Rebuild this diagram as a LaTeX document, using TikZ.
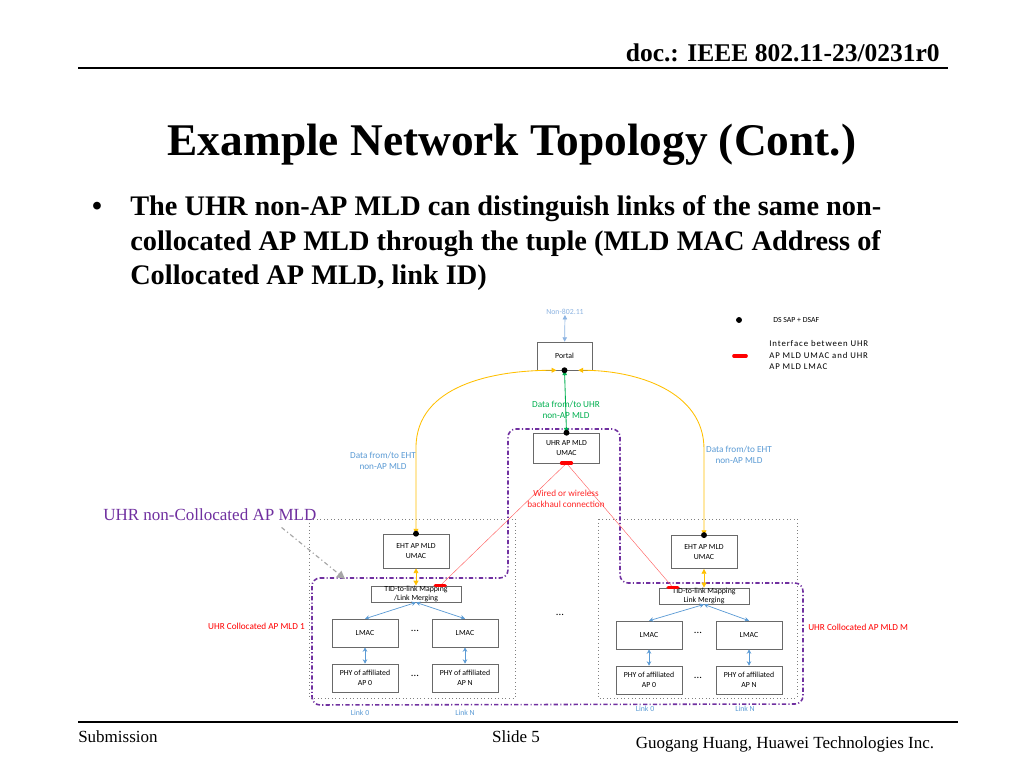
\documentclass[tikz,border=0pt]{standalone}
\usepackage{fontspec}
\setmainfont{Liberation Serif}
\newfontfamily\calfont{Carlito}
\newfontfamily\calspaced[LetterSpace=10]{Carlito}
\usepackage{tikz}
\usetikzlibrary{arrows.meta, positioning, calc}
\usepackage{xcolor}
\definecolor{linkblue}{RGB}{91,155,213}
\definecolor{paleblue}{RGB}{141,180,226}
\definecolor{ehtyellow}{RGB}{255,192,0}
\definecolor{uhrgreen}{RGB}{0,176,80}
\definecolor{uhrpurple}{RGB}{112,48,160}
\definecolor{boxgray}{RGB}{105,105,105}
\definecolor{wirered}{RGB}{255,40,40}
\tikzset{%
	mac box/.style={
		rectangle,
		draw=boxgray,
		line width=0.5pt,
		inner sep=0pt,
		align=center,
		minimum width=16.4mm,
		minimum height=6.9mm,
		font=\calfont\fontsize{5.5}{7}\selectfont
	},
	tid box/.style={
		mac box,
		minimum width=22.3mm,
		minimum height=4mm
	},
	tid text/.style={
		inner sep=0pt,
		align=center,
		font=\calfont\fontsize{5.5}{7}\selectfont
	},
	more dots/.style={
		inner sep=0pt,
		font=\calfont\fontsize{7.5}{8}\selectfont
	},
	small text/.style={
		align=center,
		inner sep=0pt,
		font=\calfont\fontsize{6.5}{8}\selectfont
	},
	link text/.style={
		inner sep=0pt,
		text=linkblue,
		font=\calfont\fontsize{5.5}{7}\selectfont
	},
	eht arrow/.style={
		draw=ehtyellow,
		line width=0.6pt,
		<->, >={Triangle[length=1.2mm,width=1.2mm]}
	},
	link arrow/.style={
		draw=linkblue,
		line width=0.5pt,
		<->, >={Stealth[length=1.1mm,width=1.1mm]}
	},
	uhr arrow/.style={
		draw=uhrgreen,
		line width=0.6pt,
		<->, >={Triangle[length=1.2mm,width=1.1mm]}
	},
	backhaul/.style={
		draw=wirered!75,
		line width=0.3pt
	},
	iface/.style={
		draw=red,
		line width=2.6pt,
		line cap=round
	},
	collocated region/.style={
		draw=gray,
		line width=0.5pt,
		dotted
	},
	uhr region/.style={
		draw=uhrpurple,
		line width=1.1pt,
		rounded corners=2mm,
		dash pattern=on 3pt off 1.6pt on 0.8pt off 1.6pt
	},
	pointer/.style={
		draw=gray!70,
		line width=0.8pt,
		dash pattern=on 3pt off 2pt on 0.8pt off 2pt,
		-{Triangle[length=2mm,width=2mm]}
	}
}

\begin{document}
\begin{tikzpicture}[x=0.248046875mm, y=-0.248046875mm]
	\fill[white] (0,0) rectangle (1024,768);
	\useasboundingbox (0,0) rectangle (1024,768);

	% slide frame
	\node[anchor=base east, inner sep=0pt, font=\bfseries\fontsize{18}{21}\selectfont] (docid) at (940,62) {doc.: IEEE 802.11-23/0231r0};
	\draw[line width=1.4pt] (78,68) -- (948,68);
	\node[anchor=base, inner sep=0pt, font=\bfseries\fontsize{32}{38}\selectfont] (title) at (512,155) {Example Network Topology (Cont.)};
	\node[anchor=base, inner sep=0pt, font=\bfseries\fontsize{20}{24}\selectfont] (dot) at (97,215) {•};
	\node[anchor=base west, inner sep=0pt, font=\bfseries\fontsize{20}{24}\selectfont] (line1) at (130,215) {The UHR non-AP MLD can distinguish links of the same non-};
	\node[anchor=base west, inner sep=0pt, font=\bfseries\fontsize{20}{24}\selectfont] (line2) at (130,250) {collocated AP MLD through the tuple (MLD MAC Address of};
	\node[anchor=base west, inner sep=0pt, font=\bfseries\fontsize{20}{24}\selectfont] (line3) at (130,284) {Collocated AP MLD, link ID)};
	\draw[line width=1.4pt] (78,722) -- (958,722);
	\node[anchor=base west, inner sep=0pt, font=\fontsize{12}{14}\selectfont] (sub) at (78,742) {Submission};
	\node[anchor=base, inner sep=0pt, font=\fontsize{12}{14}\selectfont] (slide) at (516,742) {Slide 5};
	\node[anchor=base, inner sep=0pt, font=\fontsize{12}{14}\selectfont] (author) at (785,748) {Guogang Huang, Huawei Technologies Inc.};

	% regions
	\draw[collocated region] (309,519) rectangle (515,698);
	\draw[collocated region] (598,519) rectangle (797,698);
	\draw[uhr region] (312,578) -- (508,578) -- (508,429) -- (620,429) -- (620,583) -- (803,583) -- (803,704) -- (312,705) -- cycle;

	% legend
	\fill (739,320) circle (2.1pt);
	\node[anchor=west, link text, text=black] (dslegend) at (773,320) {DS SAP + DSAF};
	\draw[iface] (734,356) -- (746,356);
	\node[anchor=west, inner sep=0pt, align=left, font=\calspaced\fontsize{6.2}{8.4}\selectfont] (iflegend) at (769,355) {Interface between UHR\\AP MLD UMAC and UHR\\AP MLD LMAC};

	% portal and UHR UMAC
	\node[small text, text=paleblue, font=\calfont\fontsize{5.5}{7}\selectfont] (non) at (565,312) {Non-802.11};
	\node[mac box, minimum width=13.6mm] (portal) at (564.5,356) {Portal};
	\node[mac box, minimum height=7.4mm] (umacU) at (566.5,448) {UHR AP MLD\\UMAC};
	\draw[link arrow, draw=paleblue, >={Triangle[length=1.1mm,width=1.1mm]}] (non) -- (portal);
	\draw[uhr arrow] (portal.south) -- (umacU.north);
	\node[small text, text=uhrgreen] (uhrdata) at (566,410) {Data from/to UHR\\non-AP MLD};

	% collocated AP MLD 1
	\node[mac box, minimum height=8.4mm] (umacL) at (416,551) {EHT AP MLD\\UMAC};
	\node[tid box] (tidL) at (416,594) {};
	\node[tid text] at (tidL) {TID-to-link Mapping\\/Link Merging};
	\node[mac box] (lmacLa) at (365,633) {LMAC};
	\node[mac box] (lmacLb) at (465,633) {LMAC};
	\node[mac box] (phyLa) at (365,678) {PHY of affiliated\\AP 0};
	\node[mac box] (phyLb) at (465,678) {PHY of affiliated\\AP N};
	\node[more dots] (dotsLa) at (415,631) {...};
	\node[more dots] (dotsLb) at (415,676) {...};
	\draw[eht arrow] (umacL.south) -- (tidL.north);
	\draw[link arrow] (tidL.south) -- (lmacLa.north);
	\draw[link arrow] (tidL.south) -- (lmacLb.north);
	\draw[link arrow] (lmacLa.south) -- (phyLa.north);
	\draw[link arrow] (lmacLb.south) -- (phyLb.north);
	\node[link text] (linkL0) at (360,713) {Link 0};
	\node[link text] (linkLN) at (465,713) {Link N};

	% collocated AP MLD M
	\node[mac box, minimum height=8.2mm] (umacR) at (704,552) {EHT AP MLD\\UMAC};
	\node[tid box] (tidR) at (704,596) {};
	\node[tid text] at (tidR) {TID-to-link Mapping\\Link Merging};
	\node[mac box] (lmacRa) at (649,635) {LMAC};
	\node[mac box] (lmacRb) at (749,635) {LMAC};
	\node[mac box] (phyRa) at (649,680) {PHY of affiliated\\AP 0};
	\node[mac box] (phyRb) at (749,680) {PHY of affiliated\\AP N};
	\node[more dots] (dotsRa) at (698,633) {...};
	\node[more dots] (dotsRb) at (698,678) {...};
	\draw[eht arrow] (umacR.south) -- (tidR.north);
	\draw[link arrow] (tidR.south) -- (lmacRa.north);
	\draw[link arrow] (tidR.south) -- (lmacRb.north);
	\draw[link arrow] (lmacRa.south) -- (phyRa.north);
	\draw[link arrow] (lmacRb.south) -- (phyRb.north);
	\node[link text] (linkR0) at (645,709) {Link 0};
	\node[link text] (linkRN) at (745,709) {Link N};

	\node[more dots] (dotsM) at (560,615) {...};

	% EHT data paths
	\draw[eht arrow] ([xshift=-2mm]portal.south) to[out=180,in=90] ($(umacL.north)+(0,-86)$) -- (umacL.north);
	\draw[eht arrow] ([xshift=3.4mm]portal.south) to[out=0,in=90] ($(umacR.north)+(0,-86)$) -- (umacR.north);
	\node[small text, text=linkblue] (ehtL) at (383,461) {Data from/to EHT\\non-AP MLD};
	\node[small text, text=linkblue] (ehtR) at (739,455) {Data from/to EHT\\non-AP MLD};

	% backhaul
	\coordinate (ifU) at (umacU.south);
	\coordinate (ifL) at ([xshift=6mm]tidL.north);
	\coordinate (ifR) at ([xshift=-7.7mm]tidR.north);
	\draw[backhaul] (ifU) -- (ifL);
	\draw[backhaul] (ifU) -- (ifR);
	\draw[iface] ([xshift=-1.2mm]ifU) -- ([xshift=1.2mm]ifU);
	\draw[iface] ([xshift=-1.2mm]ifL) -- ([xshift=1.2mm]ifL);
	\draw[iface] ([xshift=-1.2mm]ifR) -- ([xshift=1.2mm]ifR);
	\node[small text, text=wirered] (wired) at (566,499) {Wired or wireless\\backhaul connection};

	% DS SAP dots
	\fill (portal.south) circle (2.1pt);
	\fill (umacU.north) circle (2.1pt);
	\fill (umacL.north) circle (2.1pt);
	\fill (umacR.north) circle (2.1pt);

	% labels
	\node[small text, text=red, anchor=east] (coll1) at (305,626) {UHR Collocated AP MLD 1};
	\node[small text, text=red, anchor=west] (collM) at (808,627) {UHR Collocated AP MLD M};
	\node[anchor=base west, inner sep=0pt, text=uhrpurple, font=\fontsize{12}{14}\selectfont] (noncoll) at (103,520) {UHR non-Collocated AP MLD};
	\coordinate (ncptr) at (345,579);
	\draw[pointer] ($(noncoll.south east)+(-35,7)$) -- (ncptr);
\end{tikzpicture}
\end{document}
